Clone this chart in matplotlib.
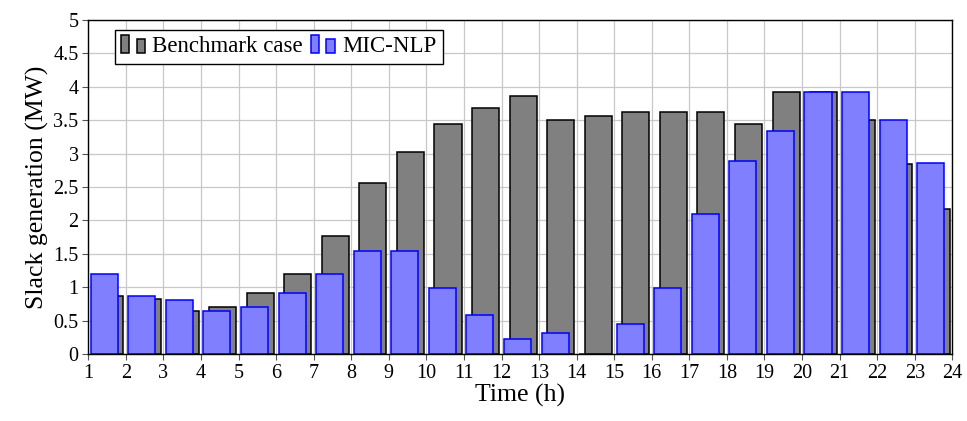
import numpy as np
import matplotlib
matplotlib.use("Agg")
import matplotlib.pyplot as plt
from matplotlib.patches import Rectangle
from matplotlib.legend_handler import HandlerBase

hours = np.arange(1, 24)
benchmark = [0.87, 0.82, 0.65, 0.71, 0.92, 1.20, 1.76, 2.56, 3.03, 3.45, 3.68, 3.86,
             3.50, 3.56, 3.62, 3.62, 3.62, 3.44, 3.92, 3.92, 3.50, 2.85, 2.17]
micnlp = [1.20, 0.87, 0.81, 0.65, 0.70, 0.92, 1.20, 1.55, 1.55, 0.99, 0.59, 0.22,
          0.32, 0.00, 0.45, 0.99, 2.10, 2.89, 3.34, 3.92, 3.92, 3.50, 2.86]
series_names = ["Benchmark case", "MIC-NLP"]
yticks = [0, 0.5, 1, 1.5, 2, 2.5, 3, 3.5, 4, 4.5, 5]
ytick_labels = ["0", "0.5", "1", "1.5", "2", "2.5", "3", "3.5", "4", "4.5", "5"]

plt.rcParams['font.family'] = ['Liberation Serif', 'DejaVu Serif']
plt.rcParams['font.size'] = 14.5


class TwoBarHandler(HandlerBase):
    # pgfplots-style ybar legend: two small bars
    def create_artists(self, legend, orig_handle, xdescent, ydescent,
                       width, height, fontsize, trans):
        fc = orig_handle.get_facecolor()
        ec = orig_handle.get_edgecolor()
        x0 = -xdescent
        y0 = -ydescent - 0.05 * height
        r1 = Rectangle((x0, y0), 0.32 * width, 1.12 * height,
                       facecolor=fc, edgecolor=ec, lw=1.1, transform=trans)
        r2 = Rectangle((x0 + 0.64 * width, y0), 0.34 * width, 0.87 * height,
                       facecolor=fc, edgecolor=ec, lw=1.1, transform=trans)
        return [r1, r2]


fig = plt.figure(figsize=(9.67, 4.21), dpi=100)
ax = fig.add_axes([0.0913, 0.159, 0.8935, 0.7935])

bw = 0.72
gb = ax.bar(hours + 0.575, benchmark, bw, color="#808080", edgecolor="black",
            linewidth=1.1, zorder=2)
bb = ax.bar(hours + 0.425, micnlp, bw, color="#8080ff", edgecolor="#0000ff",
            linewidth=1.1, zorder=3)

ax.set_xlim(1, 24)
ax.set_ylim(0, 5)
ax.set_xticks(np.arange(1, 25))
ax.set_yticks(yticks)
ax.set_yticklabels(ytick_labels)
ax.grid(True, color="#c8c8c8", linewidth=0.9, zorder=0)
ax.set_axisbelow(True)
ax.tick_params(direction="out", length=4, color="#555555", width=0.8, pad=3)
for s in ax.spines.values():
    s.set_linewidth(1.0)
    s.set_zorder(5)

ax.set_xlabel("Time (h)", fontsize=18.5, labelpad=1)
ax.set_ylabel("Slack generation (MW)", fontsize=18.5, labelpad=3)

leg = ax.legend([gb.patches[0], bb.patches[0]], series_names, loc="upper left",
                bbox_to_anchor=(0.031, 0.97), handler_map={Rectangle: TwoBarHandler()},
                frameon=True, fancybox=False, framealpha=1, edgecolor="black",
                ncol=2, columnspacing=0.35, handlelength=1.05, handletextpad=0.3,
                borderpad=0.28, borderaxespad=0, fontsize=16.5)
leg.get_frame().set_linewidth(1.0)
leg.set_zorder(10)

fig.savefig("out.png", dpi=100)
